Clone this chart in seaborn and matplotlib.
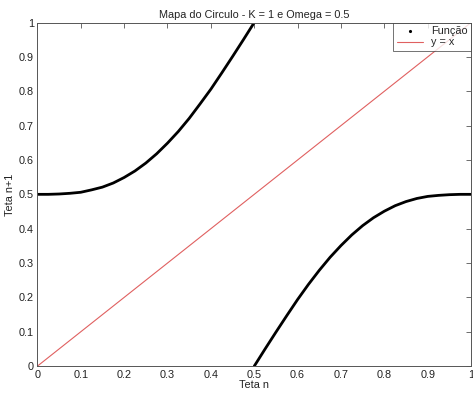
import matplotlib
matplotlib.use("Agg")
import matplotlib.pyplot as plt
from matplotlib.lines import Line2D
import numpy as np
import seaborn as sns

# Values (circle map, K = 1, Omega = 0.5)
teta_left = [0.0, 0.025, 0.05, 0.075, 0.1, 0.125, 0.15, 0.175, 0.2, 0.225, 0.25,
             0.275, 0.3, 0.325, 0.35, 0.375, 0.4, 0.425, 0.45, 0.475, 0.5]
next_left = [0.500, 0.500, 0.501, 0.503, 0.506, 0.513, 0.521, 0.533, 0.549, 0.568, 0.591,
             0.618, 0.649, 0.683, 0.721, 0.763, 0.806, 0.853, 0.901, 0.950, 1.000]
teta_right = [0.5, 0.525, 0.55, 0.575, 0.6, 0.625, 0.65, 0.675, 0.7, 0.725, 0.75,
              0.775, 0.8, 0.825, 0.85, 0.875, 0.9, 0.925, 0.95, 0.975, 1.0]
next_right = [0.000, 0.050, 0.099, 0.147, 0.194, 0.238, 0.279, 0.317, 0.351, 0.382, 0.409,
              0.432, 0.451, 0.467, 0.479, 0.488, 0.494, 0.497, 0.499, 0.500, 0.500]
identity = [0.0, 1.0]
ticks = [0.0, 0.1, 0.2, 0.3, 0.4, 0.5, 0.6, 0.7, 0.8, 0.9, 1.0]
tick_labels = ["0", "0.1", "0.2", "0.3", "0.4", "0.5", "0.6", "0.7", "0.8", "0.9", "1"]

sns.set_style("white")
plt.rcParams["font.family"] = ["Liberation Sans", "DejaVu Sans"]

fig = plt.figure(figsize=(4.73, 3.95), dpi=100)
ax = fig.add_axes([0.079, 0.073, 0.917, 0.870])

for xs, ys in [(teta_left, next_left), (teta_right, next_right)]:
    sns.lineplot(x=xs, y=ys, ax=ax, color="black", lw=2.0, sort=False,
                 estimator=None, legend=False)
sns.lineplot(x=identity, y=identity, ax=ax, color="#e06060", lw=0.8,
             estimator=None, legend=False)

ax.set_xlim(0, 1)
ax.set_ylim(0, 1)
ax.set_xticks(ticks)
ax.set_xticklabels(tick_labels)
ax.set_yticks(ticks)
ax.set_yticklabels(tick_labels)
ax.tick_params(direction="in", length=3.5, width=0.6, color="#555555",
               labelsize=7.8, labelcolor="#222222", top=True, right=True, pad=2.5)
for sp in ax.spines.values():
    sp.set_color("#555555")
    sp.set_linewidth(0.7)

ax.set_title("Mapa do Circulo - K = 1 e Omega = 0.5", fontsize=7.8, color="#222222", pad=3)
ax.set_xlabel("Teta n", fontsize=7.8, color="#222222", labelpad=0)
ax.set_ylabel("Teta n+1", fontsize=7.8, color="#222222", labelpad=3)

handles = [
    Line2D([], [], color="black", marker=".", markersize=2.5, linestyle="none"),
    Line2D([], [], color="#e06060", lw=0.8),
]
leg = ax.legend(handles, ["Função", "y = x"], loc="upper right", fontsize=7.8,
                frameon=True, fancybox=False, borderaxespad=0.0, handlelength=2.4,
                borderpad=0.35, labelspacing=0.1, handletextpad=0.7)
leg.get_frame().set_edgecolor("#333333")
leg.get_frame().set_linewidth(0.6)

fig.savefig("out.png", dpi=100)
